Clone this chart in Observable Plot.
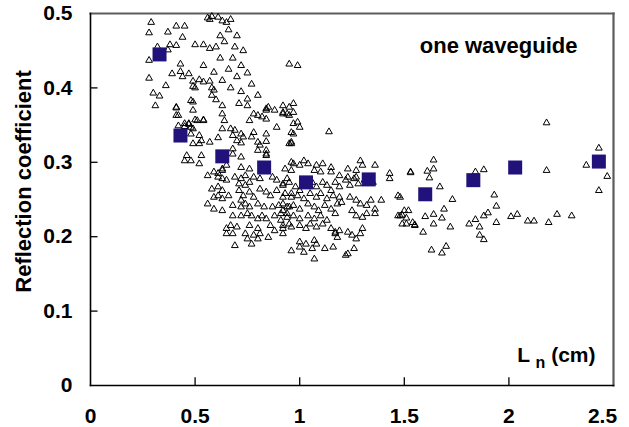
<!DOCTYPE html>
<html>
<head>
<meta charset="utf-8">
<script src="https://cdn.jsdelivr.net/npm/d3@7"></script>
<script src="https://cdn.jsdelivr.net/npm/@observablehq/plot@0.6"></script>
<style>
  html, body { margin: 0; padding: 0; background: #fff; }
  #chart svg { display: block; }
</style>
</head>
<body>
<div id="chart"></div>
<script>
// Averaged values (filled squares)
const avgLn = [0.33, 0.43, 0.63, 0.83, 1.03, 1.33, 1.60, 1.83, 2.03, 2.43];
const avgRefl = [0.445, 0.336, 0.308, 0.293, 0.273, 0.277, 0.257, 0.276, 0.293, 0.301];

// Individual measurements (open triangles): [Ln (cm), reflection coefficient]
const measurements = [
  [0.29,0.488],[0.28,0.474],[0.37,0.475],[0.41,0.483],[0.45,0.483],[0.44,0.468],[0.56,0.494],[0.58,0.496],[0.57,0.492],
  [0.38,0.458],[0.41,0.457],[0.37,0.451],[0.50,0.458],[0.54,0.458],[0.57,0.453],[0.28,0.437],[0.32,0.455],[0.43,0.432],
  [0.54,0.430],[0.43,0.422],[0.39,0.419],[0.44,0.415],[0.47,0.419],[0.59,0.421],[0.28,0.413],[0.36,0.403],[0.49,0.409],
  [0.49,0.402],[0.50,0.400],[0.52,0.411],[0.54,0.408],[0.57,0.409],[0.58,0.400],[0.59,0.397],[0.58,0.390],[0.60,0.384],
  [0.30,0.393],[0.33,0.389],[0.31,0.376],[0.48,0.383],[0.41,0.373],[0.42,0.363],[0.49,0.370],[0.50,0.357],[0.54,0.357],
  [0.47,0.351],[0.45,0.348],[0.48,0.347],
  [0.61,0.495],[0.63,0.490],[0.65,0.488],[0.67,0.492],[0.66,0.478],[0.70,0.470],[0.62,0.470],[0.64,0.462],[0.69,0.455],
  [0.73,0.450],[0.68,0.440],[0.72,0.430],[0.66,0.425],[0.70,0.415],[0.75,0.420],[0.77,0.405],[0.63,0.410],[0.67,0.400],
  [0.72,0.395],[0.80,0.390],[0.75,0.385],[0.95,0.432],[0.99,0.430],[0.62,0.440],[0.60,0.455],
  [0.41,0.374],[0.49,0.381],[0.41,0.363],[0.63,0.376],[0.63,0.365],[0.71,0.379],[0.75,0.376],[0.84,0.372],[0.84,0.370],
  [0.85,0.374],[0.78,0.365],[0.80,0.363],[0.82,0.361],[0.88,0.370],[0.92,0.367],[0.94,0.365],[0.84,0.358],[0.76,0.356],
  [0.64,0.356],[0.51,0.356],[0.54,0.356],[0.42,0.349],[0.45,0.352],[0.47,0.352],[0.49,0.345],[0.89,0.347],[0.63,0.345],
  [0.67,0.345],[0.69,0.343],[0.68,0.336],[0.72,0.338],[0.73,0.334],[0.61,0.333],[0.78,0.340],[0.77,0.334],[0.84,0.338],
  [0.84,0.328],[0.48,0.338],[0.52,0.336],[0.53,0.329],[0.49,0.325],[0.52,0.325],[0.57,0.327],[0.70,0.329],[0.72,0.326],
  [0.80,0.327],[0.81,0.323],[0.80,0.316],[0.68,0.318],[0.68,0.311],[0.84,0.316],[0.84,0.311],[0.84,0.309],[0.95,0.325],
  [0.45,0.302],[0.46,0.309],[0.48,0.302],[0.53,0.309],[0.52,0.298],[0.72,0.307],[0.72,0.293],[0.76,0.291],[0.65,0.296],
  [0.63,0.291],[0.56,0.282],[0.59,0.287],[0.61,0.285],[0.63,0.289],[0.61,0.280],[0.63,0.278],[0.65,0.276],[0.69,0.280],
  [0.72,0.278],[0.74,0.282],[0.71,0.271],[0.74,0.269],[0.76,0.273],[0.78,0.280],[0.81,0.278],[0.87,0.280],[0.89,0.276],
  [0.92,0.269],[0.94,0.278],[0.58,0.264],[0.61,0.267],[0.63,0.262],[0.66,0.255],[0.59,0.253],[0.61,0.255],[0.63,0.251],
  [0.71,0.262],[0.73,0.255],[0.72,0.249],[0.76,0.260],[0.78,0.253],[0.81,0.264],[0.84,0.260],[0.86,0.255],[0.89,0.262],
  [0.92,0.253],[0.96,0.258],[0.56,0.244],[0.59,0.237],[0.63,0.235],[0.68,0.242],[0.72,0.240],[0.74,0.244],[0.76,0.240],
  [0.80,0.244],[0.83,0.240],[0.87,0.240],[0.90,0.242],[0.92,0.235],[0.95,0.240],[0.68,0.228],[0.72,0.228],[0.75,0.231],
  [0.77,0.228],[0.80,0.224],[0.82,0.228],[0.84,0.224],[0.88,0.228],[0.91,0.222],[0.94,0.231],[0.95,0.217],[0.67,0.215],
  [0.70,0.213],[0.76,0.215],[0.80,0.211],[0.86,0.215],[0.88,0.208],[0.92,0.211],[0.65,0.211],[0.65,0.204],[0.68,0.204],
  [0.74,0.204],[0.75,0.197],[0.78,0.202],[0.81,0.204],[0.80,0.197],[0.85,0.199],[0.92,0.204],[0.69,0.188],[0.77,0.190],
  [0.92,0.376],[0.95,0.374],[0.97,0.379],[0.92,0.365],[0.95,0.363],[0.97,0.367],[0.97,0.352],[0.99,0.354],[1.00,0.347],
  [0.96,0.340],[0.97,0.338],[0.96,0.327],[0.96,0.325],[1.14,0.341],[0.96,0.300],[0.97,0.298],[1.00,0.296],[1.02,0.302],
  [1.04,0.298],[1.08,0.296],[1.11,0.298],[0.93,0.291],[0.96,0.289],[1.07,0.289],[1.10,0.287],[1.15,0.293],[1.15,0.287],
  [1.19,0.282],[1.23,0.280],[1.23,0.291],[1.27,0.289],[1.29,0.302],[1.30,0.296],[1.36,0.296],[1.27,0.280],[1.43,0.285],
  [1.43,0.278],[1.53,0.287],
  [0.92,0.271],[0.95,0.273],[0.98,0.267],[1.00,0.262],[1.04,0.269],[1.06,0.273],[1.08,0.267],[1.11,0.273],[1.13,0.269],
  [1.15,0.262],[1.17,0.273],[1.19,0.267],[1.22,0.276],[1.24,0.269],[1.26,0.278],[1.28,0.271],[1.31,0.276],[1.35,0.273],
  [0.93,0.258],[0.96,0.253],[0.99,0.255],[1.02,0.251],[1.05,0.258],[1.08,0.253],[1.10,0.258],[1.13,0.251],[1.16,0.255],
  [1.19,0.253],[1.20,0.246],[1.24,0.253],[1.27,0.249],[1.29,0.244],[0.92,0.244],[0.94,0.240],[0.97,0.242],[1.00,0.237],
  [1.04,0.244],[1.07,0.240],[1.09,0.235],[1.12,0.242],[1.15,0.237],[1.17,0.231],[1.18,0.244],[1.25,0.235],[1.27,0.228],
  [1.30,0.226],[1.32,0.242],[1.36,0.237],[1.34,0.249],[1.39,0.249],[1.32,0.231],[1.36,0.231],[0.91,0.231],[0.94,0.226],
  [0.97,0.228],[1.00,0.224],[1.04,0.228],[1.07,0.224],[1.10,0.228],[1.13,0.222],[0.92,0.215],[0.96,0.213],[1.00,0.215],
  [1.03,0.211],[1.05,0.217],[1.08,0.213],[1.11,0.217],[1.15,0.211],[1.17,0.206],[1.19,0.208],[1.23,0.206],[1.25,0.202],
  [1.27,0.197],[1.29,0.204],[1.30,0.211],[1.00,0.193],[1.00,0.186],[1.03,0.190],[1.06,0.184],[1.07,0.195],[1.08,0.190],
  [1.17,0.204],[1.18,0.199],[0.96,0.181],[1.02,0.179],[1.12,0.184],[1.16,0.186],[1.22,0.175],[1.23,0.177],[1.07,0.170],
  [1.26,0.184],[1.47,0.228],[1.48,0.228],[1.50,0.235],[1.51,0.217],[1.54,0.219],[1.55,0.215],[1.47,0.255],
  [2.18,0.353],[2.43,0.319],[2.37,0.296],[2.47,0.281],[2.43,0.262],[1.64,0.303],[1.64,0.291],[1.61,0.288],[1.62,0.279],
  [1.53,0.286],[1.88,0.290],[1.84,0.287],[2.18,0.289],[1.67,0.267],[1.73,0.250],[1.93,0.256],[1.94,0.241],[1.69,0.237],
  [1.64,0.230],[1.60,0.227],[1.68,0.225],[1.64,0.217],[1.72,0.213],[1.59,0.206],[1.52,0.235],[1.49,0.229],[1.51,0.225],
  [1.49,0.217],[1.55,0.216],[1.48,0.253],[1.63,0.182],[1.70,0.187],[1.68,0.178],[1.90,0.232],[1.88,0.228],[1.84,0.223],
  [1.81,0.217],[1.86,0.213],[1.94,0.219],[1.86,0.202],[1.88,0.196],[2.01,0.227],[2.04,0.230],[2.09,0.221],[2.12,0.221],
  [2.19,0.219],[2.23,0.230],[2.30,0.228]
];

const xTicks = [0, 0.5, 1, 1.5, 2, 2.5];
const yTicks = [0, 0.1, 0.2, 0.3, 0.4, 0.5];
const yLabel = "Reflection coefficient";
const xLabel = "L_n (cm)";
const annotation = "one waveguide";

const font = "'Liberation Sans', Arial, Helvetica, sans-serif";
const avg = avgLn.map((x, i) => ({x, y: avgRefl[i]}));
const pts = measurements.map(([x, y]) => ({x, y}));

const plot = Plot.plot({
  width: 629,
  height: 427,
  marginLeft: 90,
  marginRight: 16,
  marginTop: 13,
  marginBottom: 42,
  style: {fontFamily: font, background: "#fff", overflow: "visible"},
  x: {domain: [0, 2.5]},
  y: {domain: [0, 0.5]},
  marks: [
    // frame: grey top/right, black left/bottom
    Plot.frame({anchor: "top", stroke: "#5c5c5c", strokeWidth: 2.2}),
    Plot.frame({anchor: "right", stroke: "#5c5c5c", strokeWidth: 2.2}),
    Plot.frame({anchor: "left", stroke: "#000", strokeWidth: 1.6}),
    Plot.frame({anchor: "bottom", stroke: "#000", strokeWidth: 1.6}),
    // inward tick marks
    Plot.ruleX(xTicks.slice(1, -1), {y1: 0, y2: 0.0105, stroke: "#000", strokeWidth: 1.3}),
    Plot.ruleY(yTicks.slice(1, -1), {x1: 0, x2: 0.036, stroke: "#000", strokeWidth: 1.3}),
    Plot.axisX(xTicks.slice(0, -1), {tickSize: 0, tickPadding: 23, tickFormat: d => String(d), label: null, fontSize: 21, fontWeight: "bold", fill: "#000"}),
    Plot.axisX([2.5], {tickSize: 0, tickPadding: 23, tickFormat: d => String(d), label: null, dx: -11, fontSize: 21, fontWeight: "bold", fill: "#000"}),
    Plot.axisY(yTicks, {tickSize: 0, tickPadding: 18, tickFormat: d => String(d), label: null, fontSize: 21, fontWeight: "bold", fill: "#000"}),
    Plot.text([yLabel], {frameAnchor: "left", textAnchor: "middle", dx: -67, dy: -18, rotate: -90, fontSize: 22, fontWeight: "bold", fill: "#000"}),
    Plot.text([annotation], {frameAnchor: "top-right", textAnchor: "end", dx: -36, dy: 24, fontSize: 22, fontWeight: "bold", fill: "#000"}),
    Plot.text([xLabel], {frameAnchor: "bottom-right", textAnchor: "end", dx: -18, dy: -24, fontSize: 21, fontWeight: "bold", fill: "#000", className: "xlab"}),
    // data
    Plot.dot(pts, {x: "x", y: "y", symbol: "triangle", r: 2.5, stroke: "#000", strokeWidth: 1, fill: "none"}),
    Plot.dot(avg, {x: "x", y: "y", symbol: "square", r: 7.9, fill: "#21117a", stroke: "none"})
  ]
});

document.getElementById("chart").appendChild(plot);

// Subscript n in the x-axis title
plot.querySelectorAll(".xlab text").forEach(t => {
  if (t.textContent === xLabel) {
    t.textContent = "";
    const ns = "http://www.w3.org/2000/svg";
    const a = document.createElementNS(ns, "tspan"); a.textContent = "L ";
    const b = document.createElementNS(ns, "tspan"); b.textContent = "n"; b.setAttribute("dy", "6"); b.setAttribute("font-size", "16");
    const c = document.createElementNS(ns, "tspan"); c.textContent = " (cm)"; c.setAttribute("dy", "-6");
    t.append(a, b, c);
  }
});
</script>
</body>
</html>
